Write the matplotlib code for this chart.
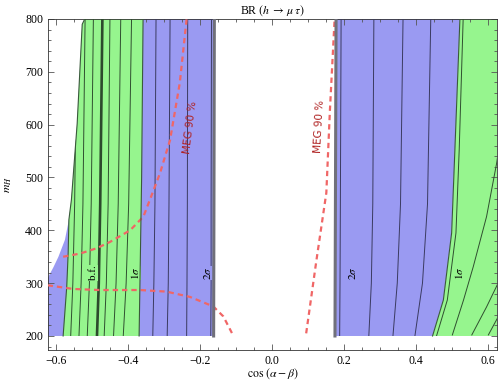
import numpy as np
import matplotlib.pyplot as plt
from matplotlib.patches import Polygon

plt.rcParams['font.family'] = 'serif'
plt.rcParams['font.serif'] = ['Liberation Serif', 'DejaVu Serif']
plt.rcParams['mathtext.fontset'] = 'stix'

# region boundaries: m_H values and cos(alpha-beta) values
white_m = [200, 307, 330, 350, 382, 420]
white_x = [-0.63, -0.625, -0.607, -0.593, -0.575, -0.564]
green_left_m = [200, 293, 357, 420, 458, 602, 790, 800]
green_left_x = [-0.580, -0.570, -0.566, -0.564, -0.557, -0.541, -0.527, -0.520]
sig1_left_m = [200, 500, 800]
sig1_left_x = [-0.369, -0.362, -0.358]
sig2_left_m = [200, 800]
sig2_left_x = [-0.162, -0.160]
sig2_right_m = [200, 800]
sig2_right_x = [0.175, 0.178]
sig1_right_m = [200, 268, 395, 552, 800]
sig1_right_x = [0.446, 0.476, 0.499, 0.508, 0.522]

# thin contour lines, x at these m_H
line_m = [200, 300, 450, 800]
green_left_lines = [
    [-0.559, -0.553, -0.548, -0.542],
    [-0.536, -0.530, -0.525, -0.519],
    [-0.513, -0.507, -0.502, -0.496],
    [-0.466, -0.460, -0.455, -0.450],
    [-0.440, -0.433, -0.427, -0.420],
    [-0.413, -0.405, -0.398, -0.390],
]
bestfit_x = [-0.486, -0.481, -0.477, -0.471]
blue_left_lines = [
    [-0.331, -0.328, -0.325, -0.322],
    [-0.291, -0.288, -0.286, -0.283],
    [-0.237, -0.236, -0.235, -0.234],
    [-0.170, -0.169, -0.169, -0.168],
]
blue_right_lines = [
    [0.188, 0.189, 0.190, 0.192],
    [0.269, 0.276, 0.280, 0.283],
    [0.336, 0.348, 0.357, 0.364],
    [0.397, 0.418, 0.432, 0.441],
]
green_right_lines = [
    ([200, 268, 395, 552, 800], [0.457, 0.487, 0.511, 0.520, 0.531]),
    ([202, 268, 331, 426, 527, 600], [0.501, 0.532, 0.559, 0.596, 0.624, 0.640]),
    ([202, 255, 300, 360], [0.555, 0.596, 0.628, 0.660]),
    ([202, 236, 280], [0.601, 0.628, 0.660]),
]

# MEG 90% curves
meg1_m = [350, 356, 366, 378, 400, 426, 465, 508, 571, 679, 800]
meg1_x = [-0.580, -0.533, -0.487, -0.450, -0.394, -0.357, -0.335, -0.311, -0.283, -0.256, -0.237]
meg2_m = [296, 289, 287, 287, 284, 274, 256, 237, 200]
meg2_x = [-0.623, -0.552, -0.478, -0.367, -0.293, -0.228, -0.163, -0.135, -0.107]
meg3_m = [205, 341, 471, 628, 800]
meg3_x = [0.095, 0.123, 0.151, 0.161, 0.174]

green = '#96f58e'
blue = '#9a9af2'

fig = plt.figure(figsize=(4.98, 3.82), dpi=100)
ax = fig.add_axes([0.0964, 0.0838, 0.9016, 0.8665])

# polygons
pts_bl = list(zip(white_x, white_m)) + [(x, m) for x, m in zip(green_left_x, green_left_m) if m > 420] \
    + list(zip(sig2_left_x, sig2_left_m))[::-1]
pts_gl = list(zip(green_left_x, green_left_m)) + list(zip(sig1_left_x, sig1_left_m))[::-1]
pts_br = list(zip(sig2_right_x, sig2_right_m)) + list(zip(sig1_right_x, sig1_right_m))[::-1]
pts_gr = list(zip(sig1_right_x, sig1_right_m)) + [(0.7, 800), (0.7, 200)]

p_bl = Polygon(pts_bl, closed=True, fc=blue, ec='none', zorder=1)
p_gl = Polygon(pts_gl, closed=True, fc=green, ec='none', zorder=2)
p_br = Polygon(pts_br, closed=True, fc=blue, ec='none', zorder=1)
p_gr = Polygon(pts_gr, closed=True, fc=green, ec='none', zorder=1)
for p in [p_bl, p_gl, p_br, p_gr]:
    ax.add_patch(p)

def clipped(xs, ms, patch, **kw):
    ln, = ax.plot(xs, ms, zorder=3, **kw)
    ln.set_clip_path(patch)

for xs in green_left_lines:
    clipped(xs, line_m, p_gl, color='#2f4f2f', lw=0.7)
clipped(bestfit_x, line_m, p_gl, color='#2c4a2c', lw=1.9)
for xs in blue_left_lines:
    clipped(xs, line_m, p_bl, color='#3a3a60', lw=0.7)
for xs in blue_right_lines:
    clipped(xs, line_m, p_br, color='#3a3a60', lw=0.7)
for ms, xs in green_right_lines:
    clipped(xs, ms, p_gr, color='#2f4f2f', lw=0.7)

# region edges
ax.plot(green_left_x, green_left_m, color='#3a5a3a', lw=0.8, zorder=3)
ax.plot(sig1_left_x, sig1_left_m, color='#3a5a3a', lw=0.8, zorder=6)
ax.plot(sig1_right_x, sig1_right_m, color='#3a5a3a', lw=0.8, zorder=3)
ax.plot(sig2_left_x, sig2_left_m, color='#70707a', lw=2.2, zorder=6)
ax.plot(sig2_right_x, sig2_right_m, color='#70707a', lw=2.2, zorder=6)

dash = dict(color='#f06666', lw=1.6, ls=(0, (2.4, 1.8)), zorder=4)
ax.plot(meg1_x, meg1_m, **dash)
ax.plot(meg2_x, meg2_m, **dash)
ax.plot(meg3_x, meg3_m, **dash)

ax.text(-0.228, 594, 'MEG 90 %', rotation=83, color='#b02222', fontsize=7.5,
        family='DejaVu Sans', ha='center', va='center', zorder=5)
ax.text(0.132, 596, 'MEG 90 %', rotation=87, color='#b02222', fontsize=7.5,
        family='DejaVu Sans', ha='center', va='center', zorder=5)

for x, s, fc in [(-0.497, 'b.f.', green), (-0.381, r'$1\sigma$', green), (-0.180, r'$2\sigma$', blue),
                 (0.225, r'$2\sigma$', blue), (0.520, r'$1\sigma$', green)]:
    ax.text(x, 319, s, rotation=90, fontsize=8, ha='center', va='center', zorder=5,
            bbox=dict(fc=fc, ec='none', pad=0.2))

ax.set_xlim(-0.622, 0.625)
ax.set_ylim(173.5, 800)
ax.set_xticks([-0.6, -0.4, -0.2, 0.0, 0.2, 0.4, 0.6])
ax.set_xticklabels(['\u22120.6', '\u22120.4', '\u22120.2', '0.0', '0.2', '0.4', '0.6'])
ax.set_xticks(np.arange(-0.6, 0.61, 0.05), minor=True)
ax.set_yticks([200, 300, 400, 500, 600, 700, 800])
ax.set_yticks(np.arange(180, 801, 20), minor=True)
ax.tick_params(which='both', direction='in', top=True, right=True, labelsize=8.5,
               color='#555555', width=0.6)
ax.tick_params(which='major', length=4)
ax.tick_params(which='minor', length=2)
for sp in ax.spines.values():
    sp.set_linewidth(0.6)
    sp.set_color('#333333')

ax.set_title(r'BR $(h\;\rightarrow\,\mu\;\tau)$', fontsize=8.5, pad=4)
ax.set_xlabel(r'$\cos\,(\alpha-\beta)$', fontsize=8.5, labelpad=0)
ax.set_ylabel(r'$m_H$', fontsize=8.5, labelpad=8)

fig.savefig('out.png', dpi=100)
